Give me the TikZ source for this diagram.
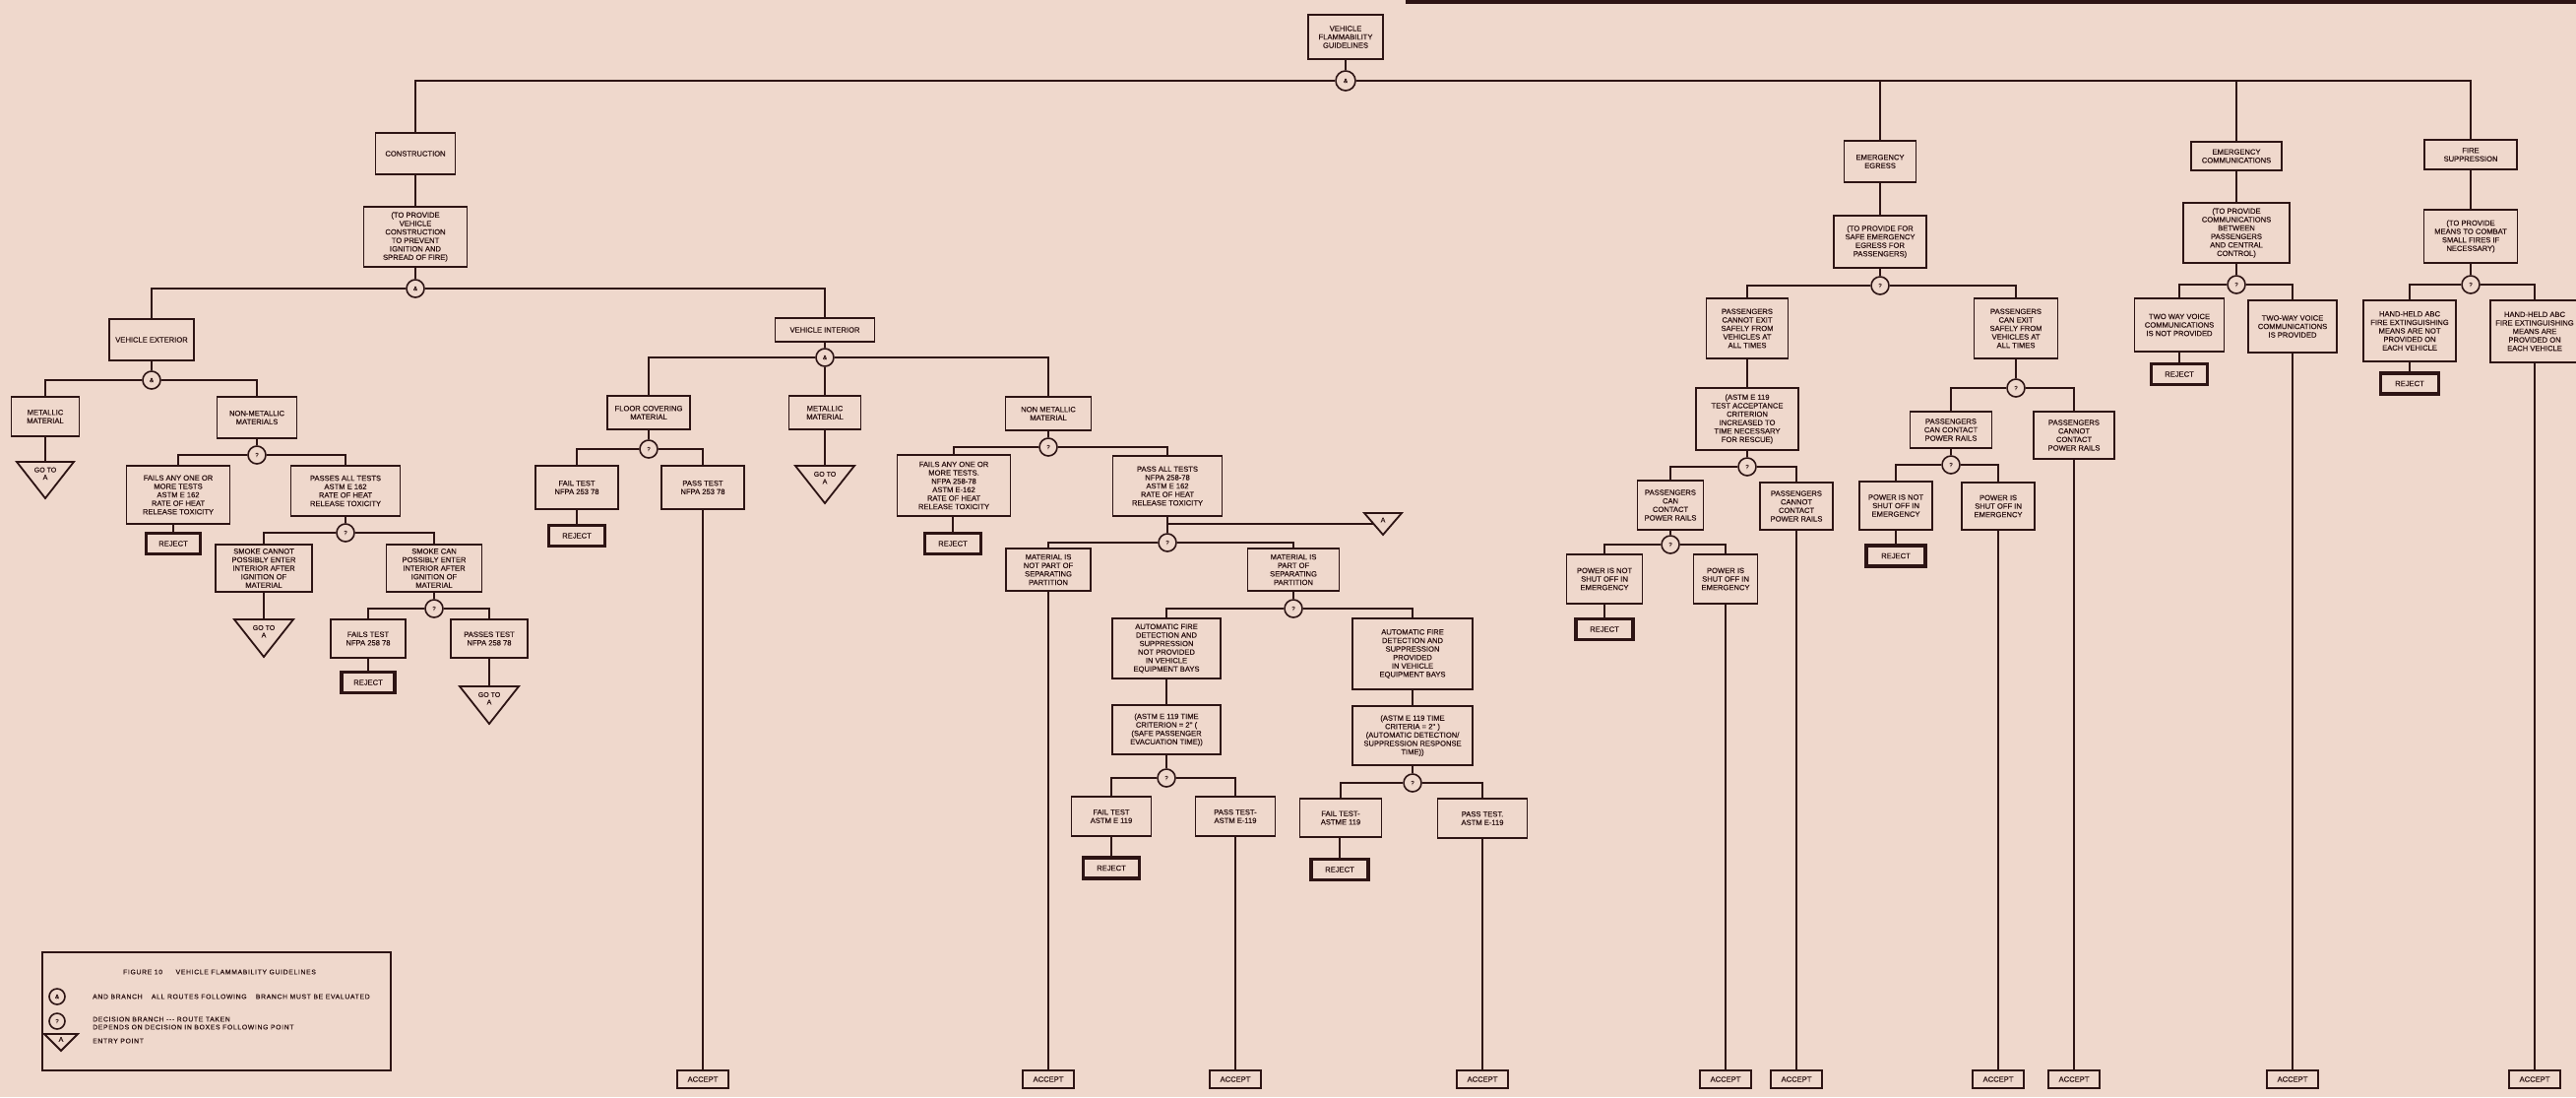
\documentclass[tikz,border=0pt]{standalone}
\usepackage{fontspec}
\setmainfont{Liberation Sans}
\newfontfamily\lfont{Liberation Sans}[FakeBold=0.45]
\newfontfamily\lgfont{Liberation Sans}[FakeBold=0.3, LetterSpace=10]
\definecolor{bg}{RGB}{239,216,204}
\definecolor{ink}{RGB}{45,20,20}
\tikzset{
 box/.style={draw=ink, line width=1.8pt, fill=bg, align=center, inner sep=1pt, text=ink, font=\lfont\fontsize{7.6}{8.6}\selectfont},
 rejbox/.style={box, line width=3.2pt, minimum height=21pt},
 dec/.style={circle, draw=ink, line width=1.6pt, fill=bg, minimum size=18pt, inner sep=0pt, text=ink, font=\lfont\fontsize{6}{6}\selectfont},
 conn/.style={draw=ink, line width=2.4pt},
 tri/.style={draw=ink, line width=1.8pt, fill=bg},
 tritext/.style={text=ink, align=center, font=\lfont\fontsize{7}{7.5}\selectfont, inner sep=0pt},
 lgtext/.style={text=ink, anchor=west, font=\lgfont\fontsize{6.8}{8}\selectfont, inner sep=0pt}
}
\newcommand\mybox[6]{\node[box, minimum width=#4pt, minimum height=#5pt] (#1) at (#2,#3) {#6};}
\newcommand\myrej[4]{\node[rejbox, minimum width=#4pt] (#1) at (#2,#3) {REJECT};}
\newcommand\myacc[2]{\node[box, minimum width=52pt, minimum height=18pt] (#1) at (#2,1096) {ACCEPT};}
\newcommand\mydec[4]{\node[dec] (#1) at (#2,#3) {#4};}
\newcommand\mytri[6]{\coordinate (#1) at (#2,#3);
 \draw[tri] (#2-#4,#3) -- (#2+#4,#3) -- (#2,#3+#5) -- cycle;
 \node[tritext] at (#2,#3+#5*0.32) {#6};}
\begin{document}
\begin{tikzpicture}[x=1pt,y=-1pt]
\fill[bg] (0,0) rectangle (2617,1114);
\useasboundingbox (0,0) rectangle (2617,1114);
\fill[ink] (1428,0) rectangle (2617,3.5);

% ---------- top level
\mybox{title}{1367}{37.5}{76}{45}{VEHICLE\\FLAMMABILITY\\GUIDELINES}
\node[dec, minimum size=20pt] (topq) at (1367,82) {\&};
\mybox{constr}{422}{156}{81}{42}{CONSTRUCTION}
\mybox{egress}{1910}{164}{73}{42}{EMERGENCY\\EGRESS}
\mybox{comm}{2272}{158.5}{92}{29}{EMERGENCY\\COMMUNICATIONS}
\mybox{fire}{2510}{157}{94}{30}{FIRE\\SUPPRESSION}
\draw[conn] (topq.north) -- (topq.north |- title.south);
\draw[conn] (topq.west) -| (constr.north);
\draw[conn] (topq.east) -| (fire.north);
\draw[conn] (egress.north) -- (egress.north |- topq.center);
\draw[conn] (comm.north) -- (comm.north |- topq.center);

% ---------- construction
\mybox{constr2}{422}{240.5}{105}{61}{(TO PROVIDE\\VEHICLE\\CONSTRUCTION\\TO PREVENT\\IGNITION AND\\SPREAD OF FIRE)}
\mydec{camp}{422}{293}{\&}
\draw[conn] (constr.south) -- (constr2.north);
\draw[conn] (camp.north) -- (camp.north |- constr2.south);
\mybox{vext}{154}{345}{86}{42}{VEHICLE EXTERIOR}
\mybox{vint}{838}{335}{101}{24}{VEHICLE INTERIOR}
\draw[conn] (camp.west) -| (vext.north);
\draw[conn] (camp.east) -| (vint.north);

% ---------- vehicle exterior
\mydec{veq}{154}{386}{\&}
\draw[conn] (veq.north) -- (veq.north |- vext.south);
\mybox{metal1}{46}{423}{69}{40}{METALLIC\\MATERIAL}
\mybox{nonmet1}{261}{424}{81}{42}{NON-METALLIC\\MATERIALS}
\draw[conn] (veq.west) -| (metal1.north);
\draw[conn] (veq.east) -| (nonmet1.north);
\mytri{ga1}{46}{469}{29}{37}{GO TO\\A}
\draw[conn] (metal1.south) -- (ga1);
\mydec{nmq}{261}{462}{?}
\draw[conn] (nmq.north) -- (nmq.north |- nonmet1.south);
\mybox{fails1}{181}{502.5}{105}{59}{FAILS ANY ONE OR\\MORE TESTS\\ASTM E 162\\RATE OF HEAT\\RELEASE TOXICITY}
\mybox{passes1}{351}{498.5}{111}{51}{PASSES ALL TESTS\\ASTM E 162\\RATE OF HEAT\\RELEASE TOXICITY}
\draw[conn] (nmq.west) -| (fails1.north);
\draw[conn] (nmq.east) -| (passes1.north);
\myrej{rej1}{176}{552}{55}
\draw[conn] (rej1.north) -- (rej1.north |- fails1.south);
\mydec{pq1}{351}{541}{?}
\draw[conn] (pq1.north) -- (pq1.north |- passes1.south);
\mybox{smoke1}{268}{577}{98}{48}{SMOKE CANNOT\\POSSIBLY ENTER\\INTERIOR AFTER\\IGNITION OF\\MATERIAL}
\mybox{smoke2}{441}{577}{97}{48}{SMOKE CAN\\POSSIBLY ENTER\\INTERIOR AFTER\\IGNITION OF\\MATERIAL}
\draw[conn] (pq1.west) -| (smoke1.north);
\draw[conn] (pq1.east) -| (smoke2.north);
\mytri{ga2}{268}{629}{30}{38}{GO TO\\A}
\draw[conn] (smoke1.south) -- (ga2);
\mydec{sq}{441}{618}{?}
\draw[conn] (sq.north) -- (sq.north |- smoke2.south);
\mybox{failt1}{374}{648.5}{76}{39}{FAILS TEST\\NFPA 258 78}
\mybox{passt1}{497}{648.5}{78}{39}{PASSES TEST\\NFPA 258 78}
\draw[conn] (sq.west) -| (failt1.north);
\draw[conn] (sq.east) -| (passt1.north);
\myrej{rej2}{374}{693}{54}
\draw[conn] (rej2.north) -- (failt1.south);
\mytri{ga3}{497}{697}{30}{38}{GO TO\\A}
\draw[conn] (passt1.south) -- (ga3);

% ---------- vehicle interior
\mydec{viq}{838}{363}{\&}
\draw[conn] (viq.north) -- (vint.south);
\mybox{floor}{659}{419}{84}{34}{FLOOR COVERING\\MATERIAL}
\mybox{metal2}{838}{419}{73}{34}{METALLIC\\MATERIAL}
\mybox{nonmet2}{1065}{420}{87}{34}{NON METALLIC\\MATERIAL}
\draw[conn] (viq.west) -| (floor.north);
\draw[conn] (viq.east) -| (nonmet2.north);
\draw[conn] (viq.south) -- (metal2.north);
\mytri{ga4}{838}{473}{30}{38}{GO TO\\A}
\draw[conn] (metal2.south) -- (ga4);
\mydec{flq}{659}{456}{?}
\draw[conn] (flq.north) -- (floor.south);
\mybox{failf}{586}{495}{84}{44}{FAIL TEST\\NFPA 253 78}
\mybox{passf}{714}{495}{84}{44}{PASS TEST\\NFPA 253 78}
\draw[conn] (flq.west) -| (failf.north);
\draw[conn] (flq.east) -| (passf.north);
\myrej{rejf}{586}{544}{57}
\draw[conn] (rejf.north) -- (failf.south);
\myacc{acc1}{714}
\draw[conn] (acc1.north) -- (passf.south);

% ---------- non metallic material (interior)
\mydec{nq}{1065}{454}{?}
\draw[conn] (nq.north) -- (nonmet2.south);
\mybox{fails2}{969}{493}{115}{62}{FAILS ANY ONE OR\\MORE TESTS.\\NFPA 258-78\\ASTM E-162\\RATE OF HEAT\\RELEASE TOXICITY}
\mybox{passall2}{1186}{493.5}{111}{61}{PASS ALL TESTS\\NFPA 258-78\\ASTM E 162\\RATE OF HEAT\\RELEASE TOXICITY}
\draw[conn] (nq.west) -| (fails2.north);
\draw[conn] (nq.east) -| (passall2.north);
\myrej{rej3}{968}{552}{57}
\draw[conn] (rej3.north) -- (rej3.north |- fails2.south);
\mytri{entA}{1405}{521}{19}{22}{A}
\coordinate (entAl) at (1395,532);
\coordinate (junc) at (1186,532);
\mydec{pq2}{1186}{551}{?}
\draw[conn] (pq2.north) -- (passall2.south);
\draw[conn] (junc) -- (entAl);
\mybox{notpart}{1065}{578.5}{86}{43}{MATERIAL IS\\NOT PART OF\\SEPARATING\\PARTITION}
\mybox{part}{1314}{578.5}{93}{43}{MATERIAL IS\\PART OF\\SEPARATING\\PARTITION}
\draw[conn] (pq2.west) -| (notpart.north);
\draw[conn] (pq2.east) -| (part.north);
\myacc{acc2}{1065}
\draw[conn] (acc2.north) -- (notpart.south);
\mydec{ptq}{1314}{618}{?}
\draw[conn] (ptq.north) -- (part.south);
\mybox{autonot}{1185}{658.5}{110}{61}{AUTOMATIC FIRE\\DETECTION AND\\SUPPRESSION\\NOT PROVIDED\\IN VEHICLE\\EQUIPMENT BAYS}
\mybox{autoyes}{1435}{664}{122}{72}{AUTOMATIC FIRE\\DETECTION AND\\SUPPRESSION\\PROVIDED\\IN VEHICLE\\EQUIPMENT BAYS}
\draw[conn] (ptq.west) -| (autonot.north);
\draw[conn] (ptq.east) -| (autoyes.north);
\mybox{astm1}{1185}{741}{110}{50}{(ASTM E 119 TIME\\CRITERION = 2'' (\\(SAFE PASSENGER\\EVACUATION TIME))}
\mybox{astm2}{1435}{747}{122}{60}{(ASTM E 119 TIME\\CRITERIA = 2'' )\\(AUTOMATIC DETECTION/\\SUPPRESSION RESPONSE\\TIME))}
\draw[conn] (autonot.south) -- (astm1.north);
\draw[conn] (autoyes.south) -- (astm2.north);
\mydec{aq1}{1185}{790}{?}
\mydec{aq2}{1435}{795}{?}
\draw[conn] (aq1.north) -- (astm1.south);
\draw[conn] (aq2.north) -- (astm2.south);
\mybox{failt2}{1129}{829}{81}{40}{FAIL TEST\\ASTM E 119}
\mybox{passt2}{1255}{829}{81}{40}{PASS TEST-\\ASTM E-119}
\draw[conn] (aq1.west) -| (failt2.north);
\draw[conn] (aq1.east) -| (passt2.north);
\myrej{rej4}{1129}{881.5}{57}
\draw[conn] (rej4.north) -- (failt2.south);
\myacc{acc3}{1255}
\draw[conn] (acc3.north) -- (passt2.south);
\mybox{failt3}{1362}{830.5}{83}{39}{FAIL TEST-\\ASTME 119}
\mybox{passt3}{1506}{831}{91}{40}{PASS TEST.\\ASTM E-119}
\draw[conn] (aq2.west) -| (failt3.north);
\draw[conn] (aq2.east) -| (passt3.north);
\myrej{rej5}{1361}{883}{58}
\draw[conn] (rej5.north) -- (rej5.north |- failt3.south);
\myacc{acc4}{1506}
\draw[conn] (acc4.north) -- (passt3.south);

% ---------- emergency egress
\mybox{egress2}{1910}{245.5}{94}{53}{(TO PROVIDE FOR\\SAFE EMERGENCY\\EGRESS FOR\\PASSENGERS)}
\draw[conn] (egress.south) -- (egress2.north);
\mydec{eq}{1910}{290}{?}
\draw[conn] (eq.north) -- (egress2.south);
\mybox{cannotexit}{1775}{333.5}{83}{61}{PASSENGERS\\CANNOT EXIT\\SAFELY FROM\\VEHICLES AT\\ALL TIMES}
\mybox{canexit}{2048}{333.5}{85}{61}{PASSENGERS\\CAN EXIT\\SAFELY FROM\\VEHICLES AT\\ALL TIMES}
\draw[conn] (eq.west) -| (cannotexit.north);
\draw[conn] (eq.east) -| (canexit.north);
\mybox{astm3}{1775}{425.5}{104}{63}{(ASTM E 119\\TEST ACCEPTANCE\\CRITERION\\INCREASED TO\\TIME NECESSARY\\FOR RESCUE)}
\draw[conn] (cannotexit.south) -- (astm3.north);
\mydec{cq}{1775}{474}{?}
\draw[conn] (cq.north) -- (astm3.south);
\mybox{cc1}{1697}{513}{67}{50}{PASSENGERS\\CAN\\CONTACT\\POWER RAILS}
\mybox{ncc1}{1825}{514}{74}{48}{PASSENGERS\\CANNOT\\CONTACT\\POWER RAILS}
\draw[conn] (cq.west) -| (cc1.north);
\draw[conn] (cq.east) -| (ncc1.north);
\myacc{acc5}{1825}
\draw[conn] (acc5.north) -- (ncc1.south);
\mydec{ccq1}{1697}{553}{?}
\draw[conn] (ccq1.north) -- (cc1.south);
\mybox{pnot1}{1630}{588}{77}{50}{POWER IS NOT\\SHUT OFF IN\\EMERGENCY}
\mybox{pis1}{1753}{588}{65}{50}{POWER IS\\SHUT OFF IN\\EMERGENCY}
\draw[conn] (ccq1.west) -| (pnot1.north);
\draw[conn] (ccq1.east) -| (pis1.north);
\myrej{rej6}{1630}{639}{58}
\draw[conn] (rej6.north) -- (pnot1.south);
\myacc{acc6}{1753}
\draw[conn] (acc6.north) -- (pis1.south);
\mydec{ceq}{2048}{394}{?}
\draw[conn] (ceq.north) -- (canexit.south);
\mybox{cc2}{1982}{436.5}{83}{37}{PASSENGERS\\CAN CONTACT\\POWER RAILS}
\mybox{ncc2}{2107}{442}{82}{48}{PASSENGERS\\CANNOT\\CONTACT\\POWER RAILS}
\draw[conn] (ceq.west) -| (cc2.north);
\draw[conn] (ceq.east) -| (ncc2.north);
\myacc{acc8}{2107}
\draw[conn] (acc8.north) -- (ncc2.south);
\mydec{ccq2}{1982}{472}{?}
\draw[conn] (ccq2.north) -- (cc2.south);
\mybox{pnot2}{1926}{513.5}{74}{49}{POWER IS NOT\\SHUT OFF IN\\EMERGENCY}
\mybox{pis2}{2030}{514}{74}{48}{POWER IS\\SHUT OFF IN\\EMERGENCY}
\draw[conn] (ccq2.west) -| (pnot2.north);
\draw[conn] (ccq2.east) -| (pis2.north);
\myrej{rej7}{1926}{564.5}{60}
\draw[conn] (rej7.north) -- (pnot2.south);
\myacc{acc7}{2030}
\draw[conn] (acc7.north) -- (pis2.south);

% ---------- emergency communications
\mybox{comm2}{2272}{236.5}{108}{61}{(TO PROVIDE\\COMMUNICATIONS\\BETWEEN\\PASSENGERS\\AND CENTRAL\\CONTROL)}
\draw[conn] (comm.south) -- (comm2.north);
\mydec{mq}{2272}{289}{?}
\draw[conn] (mq.north) -- (comm2.south);
\mybox{twonot}{2214}{330}{91}{54}{TWO WAY VOICE\\COMMUNICATIONS\\IS NOT PROVIDED}
\mybox{twoyes}{2329}{331.5}{90}{53}{TWO-WAY VOICE\\COMMUNICATIONS\\IS PROVIDED}
\draw[conn] (mq.west) -| (twonot.north);
\draw[conn] (mq.east) -| (twoyes.north);
\myrej{rej8}{2214}{380}{57}
\draw[conn] (rej8.north) -- (twonot.south);
\myacc{acc9}{2329}
\draw[conn] (acc9.north) -- (twoyes.south);

% ---------- fire suppression
\mybox{fire2}{2510}{240}{95}{54}{(TO PROVIDE\\MEANS TO COMBAT\\SMALL FIRES IF\\NECESSARY)}
\draw[conn] (fire.south) -- (fire2.north);
\mydec{fq}{2510}{289}{?}
\draw[conn] (fq.north) -- (fire2.south);
\mybox{hnot}{2448}{336}{94}{62}{HAND-HELD ABC\\FIRE EXTINGUISHING\\MEANS ARE NOT\\PROVIDED ON\\EACH VEHICLE}
\mybox{hyes}{2575}{336.5}{90}{63}{HAND-HELD ABC\\FIRE EXTINGUISHING\\MEANS ARE\\PROVIDED ON\\EACH VEHICLE}
\draw[conn] (fq.west) -| (hnot.north);
\draw[conn] (fq.east) -| (hyes.north);
\myrej{rej9}{2448}{389.5}{59}
\draw[conn] (rej9.north) -- (hnot.south);
\myacc{acc10}{2575}
\draw[conn] (acc10.north) -- (hyes.south);

% ---------- legend
\node[draw=ink, line width=1.6pt, minimum width=354pt, minimum height=120pt, inner sep=0pt] (legend) at (220,1027) {};
\node[lgtext, anchor=center] (lgtitle) at (223,987) {FIGURE 10\qquad VEHICLE FLAMMABILITY GUIDELINES};
\node[dec, minimum size=16pt] (lgand) at (58,1012) {\&};
\node[lgtext] (lgt1) at (94,1012) {AND BRANCH \quad ALL ROUTES FOLLOWING \quad BRANCH MUST BE EVALUATED};
\node[dec, minimum size=16pt] (lgdec) at (58,1037) {?};
\node[lgtext, align=left] (lgt2) at (94,1039) {DECISION BRANCH --- ROUTE TAKEN\\DEPENDS ON DECISION IN BOXES FOLLOWING POINT};
\mytri{lgtri}{62}{1050}{17}{17}{A}
\node[lgtext] (lgt3) at (94,1057) {ENTRY POINT};
\end{tikzpicture}
\end{document}
